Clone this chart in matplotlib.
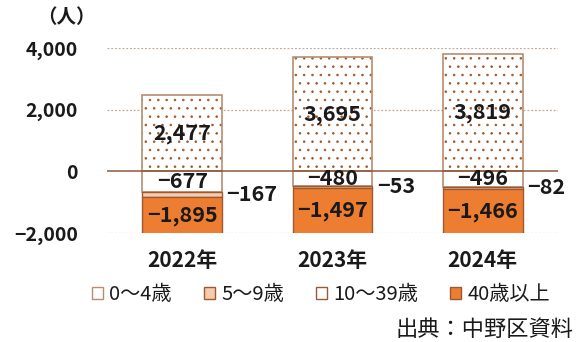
import matplotlib
matplotlib.use("Agg")
import matplotlib.pyplot as plt
from matplotlib.patches import Patch
import numpy as np

plt.rcParams["font.family"] = ["Noto Sans CJK JP", "DejaVu Sans"]
plt.rcParams["font.weight"] = "bold"
plt.rcParams["hatch.linewidth"] = 0.6

# Population change by age group (persons)
years = ["2022年", "2023年", "2024年"]
age_0_4 = [2477, 3695, 3819]
age_5_9 = [-167, -53, -82]
age_10_39 = [-677, -480, -496]
age_40_plus = [-1895, -1497, -1466]
series_names = ["0～4歳", "5～9歳", "10～39歳", "40歳以上"]

y_ticks = [-2000, 0, 2000, 4000]
y_min, y_max = -2000, 4000

ORANGE = "#ED7D31"
LIGHT = "#F8CBAD"
EDGE = "#9C5A32"
DOT = "#A0582A"
OUTLINE = "#B88C70"
GRID = "#C2A998"
TEXT = "#1A1A1A"


def fmt(v):
    s = f"{abs(v):,}"
    return ("−" + s) if v < 0 else s


fig = plt.figure(figsize=(5.8, 3.42), dpi=100)
ax = fig.add_axes([107 / 580, 1 - 233 / 342, 451 / 580, 185 / 342])

x = np.arange(len(years))
w = 0.53

# positive part: dotted bar
ax.bar(x, age_0_4, w, color="white", edgecolor=DOT, hatch="..", linewidth=0, zorder=2)
ax.bar(x, age_0_4, w, fill=False, edgecolor=OUTLINE, linewidth=1.2, zorder=3)

# negative parts stacked downward from zero
b1 = np.array(age_10_39)
b2 = b1 + np.array(age_5_9)
ax.bar(x, age_10_39, w, color="white", edgecolor=OUTLINE, linewidth=1.2, zorder=2)
ax.bar(x, age_5_9, w, bottom=b1, color=LIGHT, edgecolor=EDGE, linewidth=1.0, zorder=2)
ax.bar(x, age_40_plus, w, bottom=b2, color=ORANGE, edgecolor=EDGE, linewidth=1.0, zorder=2)

ax.set_ylim(y_min, y_max)
ax.set_xlim(-0.5, len(years) - 0.5)

ax.set_yticks(y_ticks)
ax.set_yticklabels([fmt(v) for v in y_ticks], color=TEXT)
ax.set_xticks(x)
ax.set_xticklabels(years, fontsize=15, color=TEXT)
ax.tick_params(axis="y", length=0, pad=21, labelsize=14)
ax.tick_params(axis="x", length=0, pad=12)
for sp in ax.spines.values():
    sp.set_visible(False)

for yv in y_ticks:
    if yv == 0:
        ax.axhline(0, color="#8B5A3C", linewidth=1.1, zorder=4)
    else:
        ax.axhline(yv, color=GRID, linewidth=0.9, linestyle=(0, (1.5, 1.5)), zorder=1)

lab_fs = 15.5
for i in range(len(years)):
    ax.text(x[i], age_0_4[i] / 2, fmt(age_0_4[i]), ha="center", va="center",
            fontsize=lab_fs, color=TEXT, zorder=5)
    ax.text(x[i], age_10_39[i] / 2, fmt(age_10_39[i]), ha="center", va="center",
            fontsize=lab_fs, color=TEXT, zorder=5)
    ax.text(x[i] + w / 2 + 0.03, b1[i] + age_5_9[i] / 2, fmt(age_5_9[i]),
            ha="left", va="center", fontsize=lab_fs, color=TEXT, zorder=5)
    lo = max(b2[i] + age_40_plus[i], y_min)
    ax.text(x[i], (b2[i] + lo) / 2, fmt(age_40_plus[i]), ha="center", va="center",
            fontsize=lab_fs, color=TEXT, zorder=5)

fig.text(66 / 580, 1 - 18 / 342, "（人）", ha="center", va="center", fontsize=14, color=TEXT)

handles = [
    Patch(facecolor="white", edgecolor=OUTLINE, linewidth=1.0),
    Patch(facecolor=LIGHT, edgecolor=EDGE, linewidth=1.0),
    Patch(facecolor="white", edgecolor=EDGE, linewidth=1.0),
    Patch(facecolor=ORANGE, edgecolor=EDGE, linewidth=1.0),
]
leg = fig.legend(handles, series_names, loc="center left",
                 bbox_to_anchor=(92 / 580, 1 - 295 / 342),
                 ncol=4, frameon=False, prop={"size": 14.5, "weight": "normal"},
                 handlelength=0.55, handleheight=0.55,
                 handletextpad=0.3, columnspacing=1.6, borderaxespad=0, borderpad=0)
for t in leg.get_texts():
    t.set_color(TEXT)

fig.text(573 / 580, 1 - 329 / 342, "出典：中野区資料", ha="right", va="center",
         fontsize=16, weight="normal", color=TEXT)

fig.savefig("out.png", dpi=100)
